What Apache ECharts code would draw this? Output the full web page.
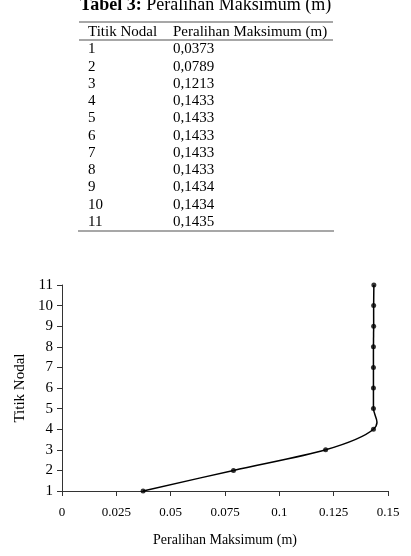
<!DOCTYPE html>
<html><head><meta charset="utf-8">
<script src="https://cdn.jsdelivr.net/npm/echarts@6/dist/echarts.min.js"></script>
<style>html,body{margin:0;padding:0;background:#fff}#c{width:411px;height:556px}</style>
</head><body><div id="c"></div>
<script>
const tableTitleBold = 'Tabel 3:';
const tableTitleRest = ' Peralihan Maksimum (m)';
const colHeaders = ['Titik Nodal', 'Peralihan Maksimum (m)'];
const nodes = [1, 2, 3, 4, 5, 6, 7, 8, 9, 10, 11];
const displacement = [0.0373, 0.0789, 0.1213, 0.1433, 0.1433, 0.1433, 0.1433, 0.1433, 0.1434, 0.1434, 0.1435];
const xTicks = [0, 0.025, 0.05, 0.075, 0.1, 0.125, 0.15];
const yTicks = [1, 2, 3, 4, 5, 6, 7, 8, 9, 10, 11];
const xAxisTitle = 'Peralihan Maksimum (m)';
const yAxisTitle = 'Titik Nodal';

const FONT = "'Liberation Serif', 'Times New Roman', serif";
const chart = echarts.init(document.getElementById('c'), null, {renderer: 'canvas'});

const graphics = [];
graphics.push({
  type: 'text', left: 'center', top: -4,
  style: {
    text: '{b|' + tableTitleBold + '}{n|' + tableTitleRest + '}',
    rich: {
      b: {fontFamily: FONT, fontSize: 18, fontWeight: 'bold', fill: '#000'},
      n: {fontFamily: FONT, fontSize: 18, fill: '#000'}
    }
  }
});
const ruleStyle = {stroke: '#8a8a8a', lineWidth: 1.6};
graphics.push({type: 'line', shape: {x1: 79, y1: 22, x2: 333, y2: 22}, style: ruleStyle});
graphics.push({type: 'line', shape: {x1: 79, y1: 40, x2: 333, y2: 40}, style: ruleStyle});
graphics.push({type: 'line', shape: {x1: 78, y1: 231, x2: 334, y2: 231}, style: ruleStyle});
const colX = [88, 173];
const TF = 15;
colHeaders.forEach((h, i) => {
  graphics.push({type: 'text', x: colX[i], y: 32,
    style: {text: h, fontFamily: FONT, fontSize: TF, fill: '#000', verticalAlign: 'middle'}});
});
nodes.forEach((n, i) => {
  const y = 49.5 + i * 17.24;
  graphics.push({type: 'text', x: colX[0], y: y,
    style: {text: String(n), fontFamily: FONT, fontSize: TF, fill: '#000', verticalAlign: 'middle'}});
  graphics.push({type: 'text', x: colX[1], y: y,
    style: {text: displacement[i].toFixed(4).replace('.', ','), fontFamily: FONT, fontSize: TF, fill: '#000', verticalAlign: 'middle'}});
});

const points = displacement.map((d, i) => [d, nodes[i]]);

// Smoothed (Catmull-Rom style) segment between point i and i+1, positioned through the axes
function renderSegment(params, api) {
  const i = params.dataIndex;
  if (i >= points.length - 1) return null;
  const P = k => api.coord(points[Math.max(0, Math.min(points.length - 1, k))]);
  const p0 = P(i - 1), p1 = P(i), p2 = P(i + 1), p3 = P(i + 2);
  const t = 1 / 6;
  return {
    type: 'bezierCurve',
    shape: {
      x1: p1[0], y1: p1[1], x2: p2[0], y2: p2[1],
      cpx1: p1[0] + (p2[0] - p0[0]) * t, cpy1: p1[1] + (p2[1] - p0[1]) * t,
      cpx2: p2[0] - (p3[0] - p1[0]) * t, cpy2: p2[1] - (p3[1] - p1[1]) * t
    },
    style: {stroke: '#000', lineWidth: 1.5, fill: null}
  };
}

chart.setOption({
  animation: false,
  backgroundColor: '#fff',
  graphic: graphics,
  grid: {left: 62, right: 23, top: 285, bottom: 65, containLabel: false},
  xAxis: {
    type: 'value', min: xTicks[0], max: xTicks[xTicks.length - 1], interval: 0.025,
    name: xAxisTitle, nameLocation: 'middle', nameGap: 42,
    nameTextStyle: {fontFamily: FONT, fontSize: 14, color: '#000'},
    axisLine: {show: true, lineStyle: {color: '#333', width: 1}},
    axisTick: {show: true, length: 5, lineStyle: {color: '#333'}},
    axisLabel: {fontFamily: FONT, fontSize: 13, color: '#000', margin: 15,
      formatter: v => String(+v.toFixed(3))},
    splitLine: {show: false}
  },
  yAxis: {
    type: 'value', min: yTicks[0], max: yTicks[yTicks.length - 1], interval: 1,
    name: yAxisTitle, nameLocation: 'middle', nameGap: 28, nameRotate: 90,
    nameTextStyle: {fontFamily: FONT, fontSize: 15, color: '#000'},
    axisLine: {show: true, lineStyle: {color: '#333', width: 1}},
    axisTick: {show: true, length: 5, lineStyle: {color: '#333'}},
    axisLabel: {fontFamily: FONT, fontSize: 15, color: '#000', margin: 9},
    splitLine: {show: false}
  },
  series: [{
    type: 'custom',
    renderItem: renderSegment,
    data: points,
    encode: {x: 0, y: 1},
    silent: true,
    z: 2
  }, {
    type: 'scatter',
    data: points,
    symbol: 'circle', symbolSize: 5,
    itemStyle: {color: '#000'},
    z: 3
  }]
});
</script></body></html>
